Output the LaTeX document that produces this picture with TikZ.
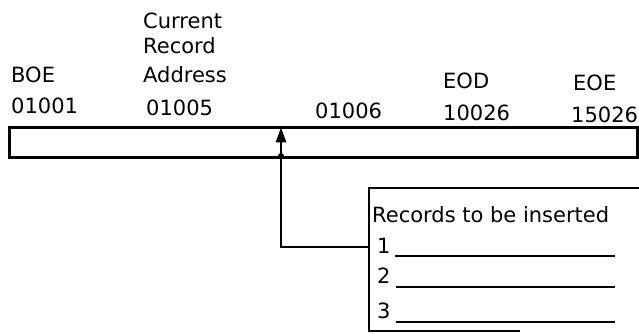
\documentclass[tikz,border=0pt]{standalone}
\usepackage{fontspec}
\setmainfont{DejaVu Sans}
\usetikzlibrary{arrows.meta}
\begin{document}
\begin{tikzpicture}[x=1pt,y=-1pt,
  lbl/.style={anchor=base west,inner sep=0pt,font=\fontsize{21}{24}\selectfont},
  heavy/.style={line width=2.6pt},
  thin/.style={line width=1.9pt}]
\useasboundingbox (0,0) rectangle (639,333);
% top labels
\node[lbl] (cur) at (143,28) {Current};
\node[lbl] (rec) at (143,53) {Record};
\node[lbl] (adr) at (143,82) {Address};
\node[lbl] (boe) at (11,82) {BOE};
\node[lbl] (a1) at (11,113) {01001};
\node[lbl] (a5) at (146,115) {01005};
\node[lbl] (a6) at (315,118) {01006};
\node[lbl] (eod) at (443,88) {EOD};
\node[lbl] (a26) at (443,120) {10026};
\node[lbl] (eoe) at (573,90) {EOE};
\node[lbl] (a15) at (571,122) {15026};
% bar
\node[draw,heavy,minimum width=628pt,minimum height=30pt,inner sep=0pt,anchor=north west] (bar) at (8,126) {};
% pointer
\coordinate (ptrtop) at (281,127.3);
\coordinate (corner) at (281,247);
\coordinate (boxin) at (369,247);
\draw[heavy] (boxin) -- (corner) -- (281,140);
\draw[heavy,-{Triangle[length=15pt,width=10pt]}] (corner) -- (ptrtop);
\fill (281,156) circle (3pt);
% records box
\draw[heavy] (639,188) -- (369,188) -- (369,331) -- (520,331);
\node[lbl] (rt) at (372,222) {Records to be inserted};
\node[lbl] (n1) at (377,253) {1};
\node[lbl] (n2) at (377,283) {2};
\node[lbl] (n3) at (377,318) {3};
\draw[thin] (395,256) -- (615,256);
\draw[thin] (396,287) -- (615,287);
\draw[thin] (396,322) -- (615,322);
\end{tikzpicture}
\end{document}
